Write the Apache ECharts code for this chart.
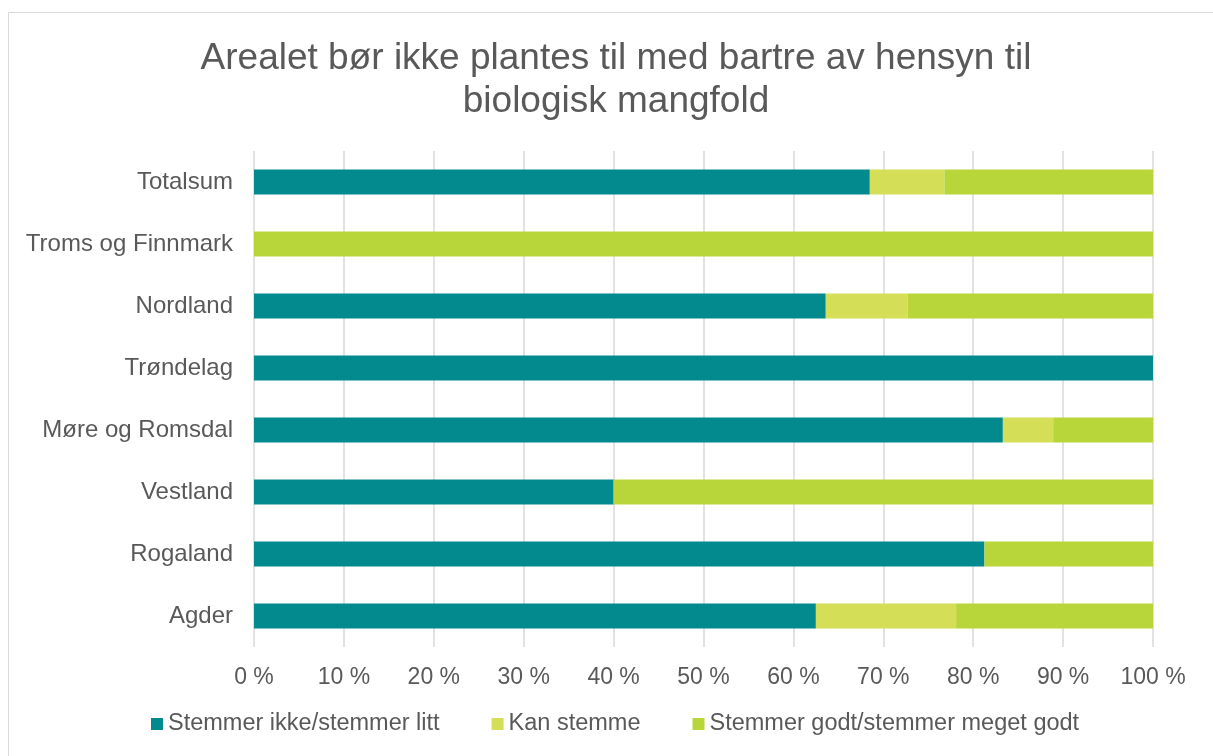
<!DOCTYPE html>
<html>
<head>
<meta charset="utf-8">
<script src="https://cdn.jsdelivr.net/npm/echarts@6/dist/echarts.min.js"></script>
<style>
  html, body { margin: 0; padding: 0; background: #fff; }
  #chart { width: 1213px; height: 756px; }
</style>
</head>
<body>
<div id="chart"></div>
<script>
// categories bottom -> top (as drawn by category axis)
const regions = ['Agder', 'Rogaland', 'Vestland', 'Møre og Romsdal', 'Trøndelag', 'Nordland', 'Troms og Finnmark', 'Totalsum']
const ikke = [62.5, 81.25, 40, 83.3, 100, 63.6, 0, 68.5]
const kan = [15.6, 0, 0, 5.6, 0, 9.1, 0, 8.3]
const godt = [21.9, 18.75, 60, 11.1, 0, 27.3, 100, 23.2]
const seriesNames = ['Stemmer ikke/stemmer litt', 'Kan stemme', 'Stemmer godt/stemmer meget godt']
const colors = ['#028a8e', '#d4df57', '#b8d53a']

let mychart = echarts.init(document.getElementById('chart'))
mychart.setOption({
  animation: false,
  color: colors,
  textStyle: { fontFamily: 'Liberation Sans, Arial, sans-serif' },
  title: {
    text: 'Arealet bør ikke plantes til med bartre av hensyn til\nbiologisk mangfold',
    left: 611,
    textAlign: 'center',
    top: 32,
    textStyle: { fontSize: 37, fontWeight: 'normal', color: '#595959', lineHeight: 43 },
  },
  graphic: [
    {
      type: 'rect',
      shape: { x: 8.5, y: 12.5, width: 1215, height: 760 },
      style: { fill: 'none', stroke: '#d9d9d9', lineWidth: 1 },
      silent: true,
    },
  ],
  legend: {
    bottom: 15,
    left: 146,
    itemWidth: 12,
    itemHeight: 12,
    itemGap: 52,
    icon: 'rect',
    textStyle: { fontSize: 23.5, color: '#595959' },
    data: seriesNames,
  },
  grid: {
    top: 151,
    left: 254,
    right: 60,
    bottom: 109,
  },
  xAxis: {
    type: 'value',
    min: 0,
    max: 100,
    interval: 10,
    axisLine: { show: false },
    axisTick: { show: false },
    axisLabel: { formatter: '{value} %', fontSize: 23, color: '#595959', margin: 19 },
    splitLine: { lineStyle: { color: '#d9d9d9', width: 1.5 } },
  },
  yAxis: {
    type: 'category',
    data: regions,
    axisLine: { show: false },
    axisTick: { show: false },
    axisLabel: { fontSize: 24, color: '#595959', margin: 21 },
  },
  series: [
    { name: seriesNames[0], type: 'bar', stack: 't', barWidth: 25, data: ikke },
    { name: seriesNames[1], type: 'bar', stack: 't', barWidth: 25, data: kan },
    { name: seriesNames[2], type: 'bar', stack: 't', barWidth: 25, data: godt },
  ],
})
</script>
</body>
</html>
